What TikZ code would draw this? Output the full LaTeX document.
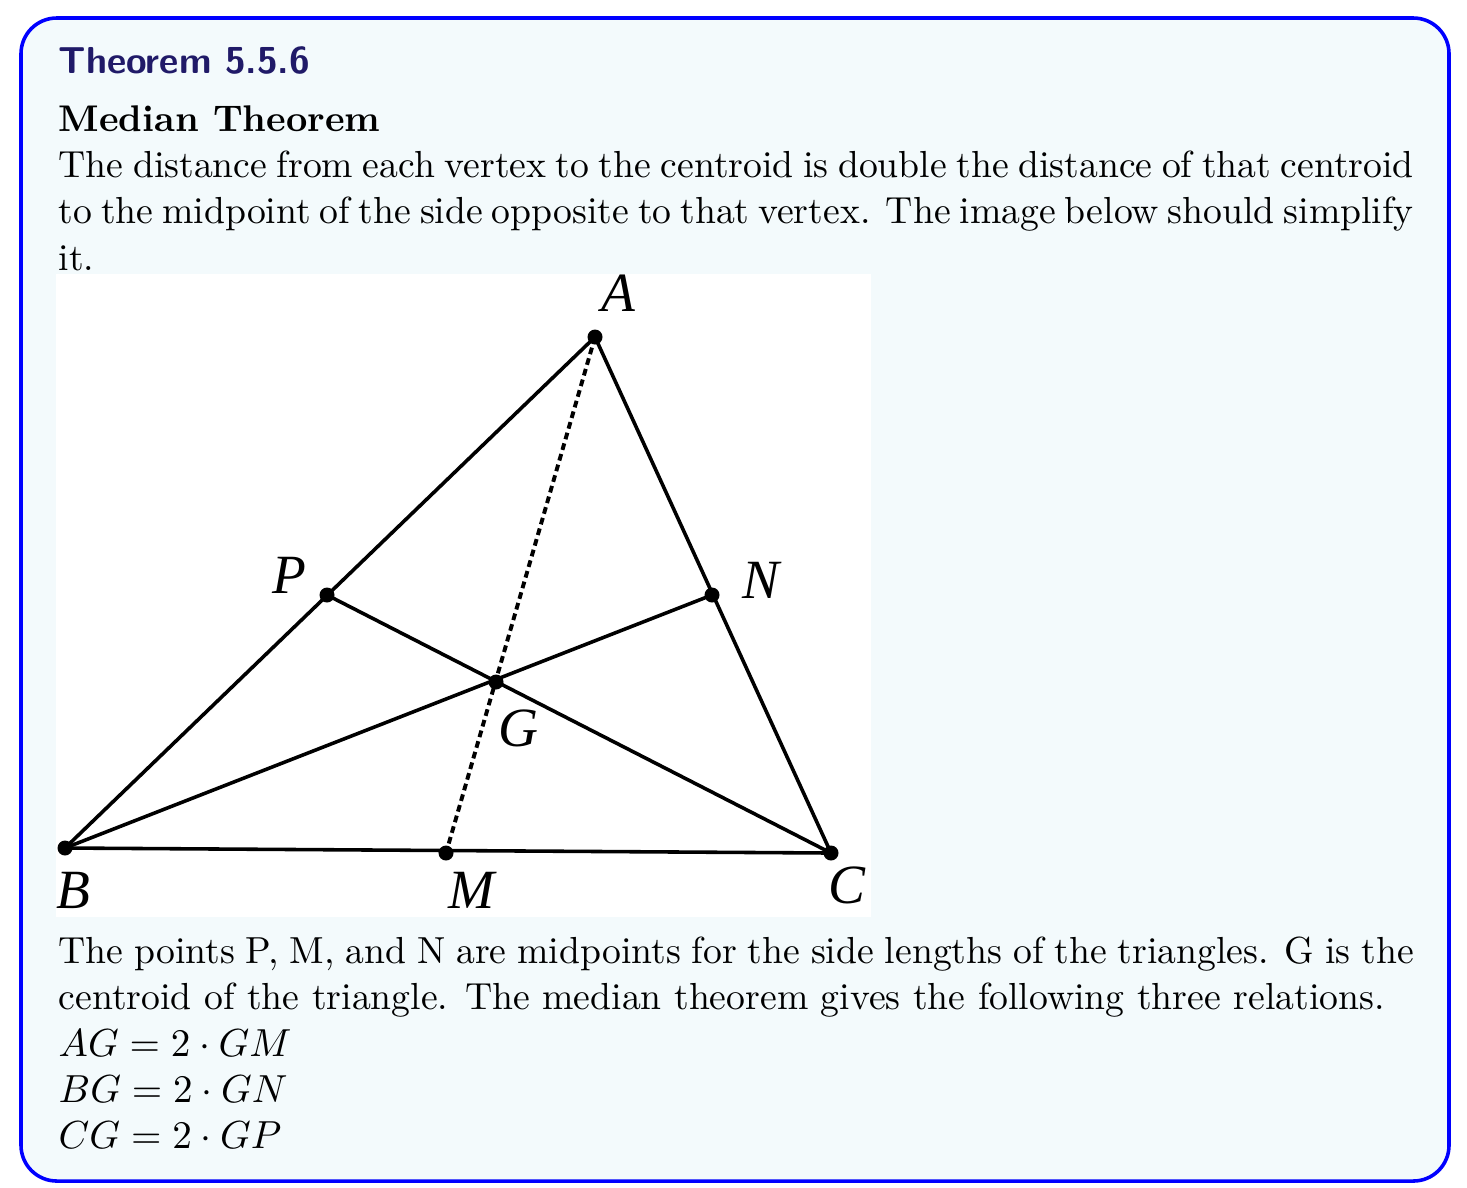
\documentclass[tikz,border=0pt]{standalone}
\usepackage{amsmath,amssymb}
\usepackage{fontspec}
\usepackage{xcolor}
\usetikzlibrary{positioning,calc}
\newfontfamily\figfont{Liberation Serif}
\definecolor{boxblue}{RGB}{0,0,255}
\definecolor{boxbg}{RGB}{243,250,252}
\definecolor{titlenavy}{RGB}{32,26,104}
\newcommand{\fullline}[1]{\makebox[379.4pt][s]{#1}}

\begin{document}
\begin{tikzpicture}[x=0.28pt, y=-0.28pt,
    txt/.style={anchor=base west, inner sep=0pt, font=\fontsize{10.55}{12}\selectfont},
    eqn/.style={txt, font=\fontsize{11}{12}\selectfont},
    lbl/.style={inner sep=0pt, font=\figfont\itshape\fontsize{15.5}{16}\selectfont},
    side/.style={line width=1pt},
    dot/.style={fill=black}]
    \useasboundingbox (0,0) rectangle (1467,1187);
    % Theorem box
    \draw[boxblue, fill=boxbg, line width=1pt, rounded corners=10pt] (21,18) rectangle (1449,1181);
    \node[txt, font=\sffamily\bfseries\fontsize{10.5}{12}\selectfont, text=titlenavy] (title) at (58,73) {Theorem 5.5.6};
    \node[txt, font=\bfseries\fontsize{10.4}{12}\selectfont] (name) at (58,131) {Median Theorem};
    \node[txt] (l1) at (58,177) {\fullline{The distance from each vertex to the centroid is double the distance of that centroid}};
    \node[txt] (l2) at (58,223) {\fullline{to the midpoint of the side opposite to that vertex. The image below should simplify}};
    \node[txt] (l3) at (58,270) {it.};

    % Figure
    \fill[white] (56,274) rectangle (871,917);
    \coordinate (A) at (595,337);
    \coordinate (B) at (65,848);
    \coordinate (C) at (831,853);
    \coordinate (M) at (446,853);
    \coordinate (N) at (712,595);
    \coordinate (P) at (327,595);
    \coordinate (G) at (496,682);
    \draw[side] (A) -- (B) -- (C) -- cycle;
    \draw[side] (B) -- (N);
    \draw[side] (C) -- (P);
    \draw[line width=1.1pt, dash pattern=on 1.9pt off 1.2pt] (A) -- (M);
    \foreach \p in {A,B,C,M,N,P,G}
        \fill[dot] (\p) circle (7.5);
    \node[lbl] (lA) at (618,293) {A};
    \node[lbl] (lB) at (73,890) {B};
    \node[lbl] (lC) at (847,885) {C};
    \node[lbl] (lM) at (472,890) {M};
    \node[lbl] (lN) at (761,580) {N};
    \node[lbl] (lP) at (289,575) {P};
    \node[lbl] (lG) at (518,728) {G};

    % Text below the figure
    \node[txt] (l4) at (58,963) {\fullline{The points P, M, and N are midpoints for the side lengths of the triangles. G is the}};
    \node[txt] (l5) at (58,1009) {centroid of the triangle. The median theorem gives the following three relations.};
    \node[eqn] (e1) at (58,1056) {$AG = 2\cdot GM$};
    \node[eqn] (e2) at (58,1102) {$BG = 2\cdot GN$};
    \node[eqn] (e3) at (58,1148) {$CG = 2\cdot GP$};
\end{tikzpicture}
\end{document}
